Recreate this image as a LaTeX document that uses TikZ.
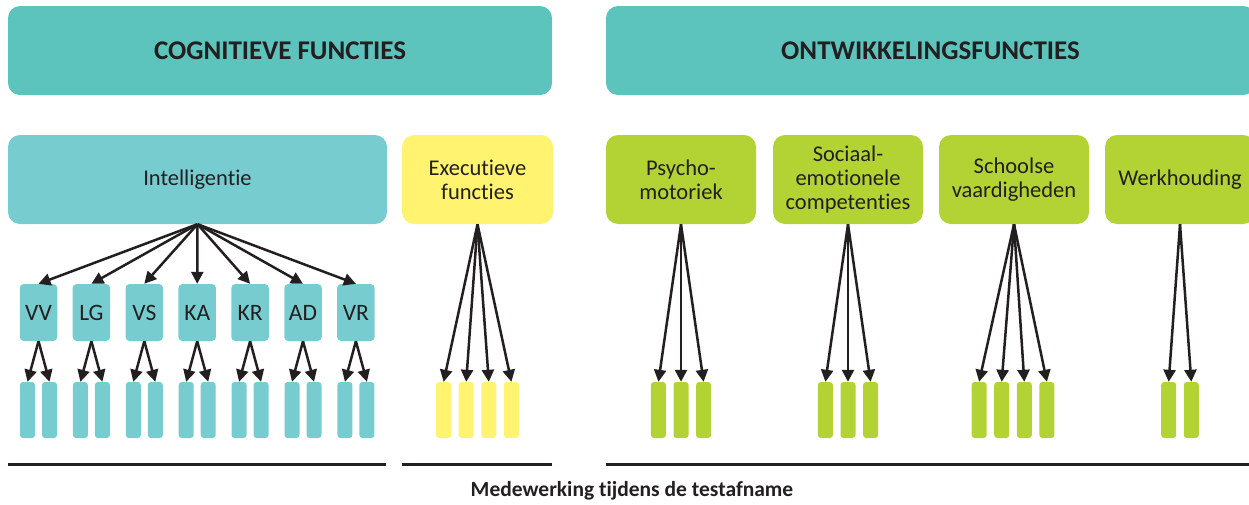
\documentclass[tikz,border=0pt]{standalone}
\usepackage{fontspec}
\setmainfont[Ligatures=NoCommon]{Carlito}
\usetikzlibrary{arrows.meta}
\definecolor{tealA}{HTML}{5CC4BC}
\definecolor{tealB}{HTML}{77CCCF}
\definecolor{yel}{HTML}{FFF36F}
\definecolor{grn}{HTML}{B3D334}
\definecolor{ink}{HTML}{231F20}
\tikzset{
  bigbox/.style={rounded corners=12pt, align=center, text=ink, inner sep=0pt, minimum height=89pt, font=\fontsize{22.5}{24}\selectfont},
  headbox/.style={bigbox, fill=tealA, font=\bfseries\fontsize{27}{29}\selectfont},
  smallbox/.style={rounded corners=4pt, fill=tealB, text=ink, inner sep=0pt, minimum width=37.5pt, minimum height=57pt, font=\fontsize{23.5}{25}\selectfont},
  leaf/.style={rounded corners=3pt, inner sep=0pt, minimum width=15pt, minimum height=56pt},
  arr/.style={draw=ink, line width=2.5pt, -{Triangle[length=12pt,width=12pt]}},
  rule/.style={draw=ink, line width=3pt}
}
\begin{document}
\begin{tikzpicture}[x=1pt,y=-1pt]
\useasboundingbox (0,0) rectangle (1249,504);
% headings
\node[headbox, minimum width=544pt] (cog) at (280,50.5) {COGNITIEVE FUNCTIES};
\node[headbox, minimum width=649pt] (ont) at (930.5,50.5) {ONTWIKKELINGSFUNCTIES};
% second row
\node[bigbox, fill=tealB, minimum width=379pt] (int) at (197.5,179.5) {Intelligentie};
\node[bigbox, fill=yel, minimum width=151pt] (exe) at (477.5,179.5) {Executieve\\functies};
\node[bigbox, fill=grn, minimum width=150pt] (psy) at (681,179.5) {Psycho-\\motoriek};
\node[bigbox, fill=grn, minimum width=150pt] (soc) at (848,179.5) {Sociaal-\\emotionele\\competenties};
\node[bigbox, fill=grn, minimum width=150pt] (sch) at (1014,179.5) {Schoolse\\vaardigheden};
\node[bigbox, fill=grn, minimum width=150pt] (wer) at (1180,179.5) {Werkhouding};
% intelligence subtests
\foreach \lab [count=\k from 0] in {VV,LG,VS,KA,KR,AD,VR} {
  \pgfmathsetmacro{\cx}{38.5+52.9*\k}
  \node[smallbox] (s\k) at (\cx,312.5) {\lab};
  \node[leaf, fill=tealB] (s\k a) at (\cx-11,410) {};
  \node[leaf, fill=tealB] (s\k b) at (\cx+11,410) {};
  \draw[arr] (int.south) -- (s\k.north);
  \draw[arr] (s\k.south) -- (s\k a.north);
  \draw[arr] (s\k.south) -- (s\k b.north);
}
% executive
\foreach \o [count=\k] in {-33.9,-11.3,11.3,33.9} {
  \node[leaf, fill=yel] (e\k) at (477.5+\o,410) {};
  \draw[arr] (exe.south) -- (e\k.north);
}
% psychomotoriek
\foreach \o [count=\k] in {-22.6,0,22.6} {
  \node[leaf, fill=grn] (p\k) at (681+\o,410) {};
  \draw[arr] (psy.south) -- (p\k.north);
}
% sociaal
\foreach \o [count=\k] in {-22.6,0,22.6} {
  \node[leaf, fill=grn] (c\k) at (848+\o,410) {};
  \draw[arr] (soc.south) -- (c\k.north);
}
% schoolse
\foreach \o [count=\k] in {-33.9,-11.3,11.3,33.9} {
  \node[leaf, fill=grn] (v\k) at (1013+\o,410) {};
  \draw[arr] (sch.south) -- (v\k.north);
}
% werkhouding
\foreach \o [count=\k] in {-11.3,11.3} {
  \node[leaf, fill=grn] (w\k) at (1180+\o,410) {};
  \draw[arr] (wer.south) -- (w\k.north);
}
% bottom rules
\draw[rule] (8,464.5) -- (386,464.5);
\draw[rule] (402,464.5) -- (552,464.5);
\draw[rule] (606,464.5) -- (1249,464.5);
\node[text=ink, font=\bfseries\fontsize{21.5}{23}\selectfont] (med) at (632,491) {Medewerking tijdens de testafname};
\end{tikzpicture}
\end{document}
